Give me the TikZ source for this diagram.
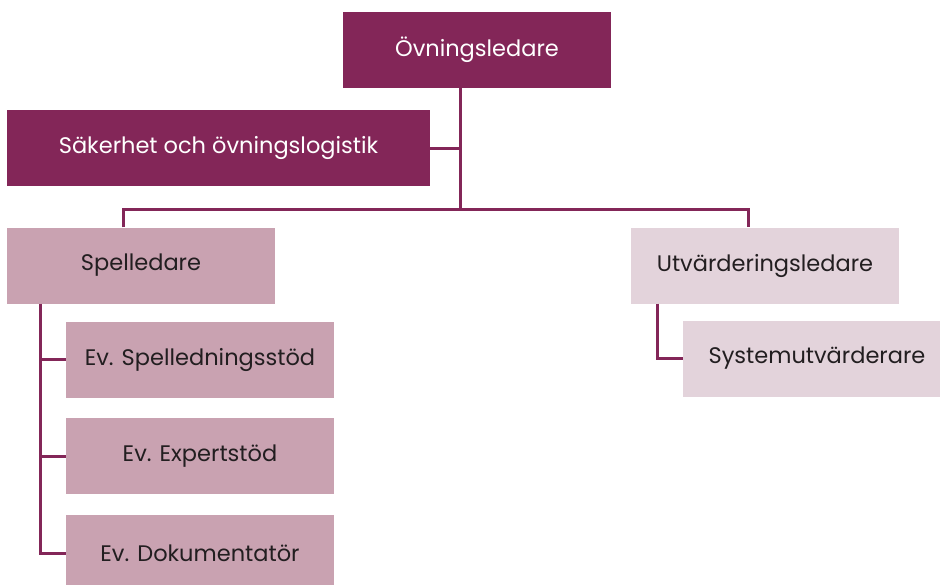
\documentclass[tikz,border=0pt]{standalone}
\usepackage{fontspec}
\setmainfont{Poppins}
\definecolor{plum}{RGB}{131,38,88}
\definecolor{rose}{RGB}{201,162,177}
\definecolor{blush}{RGB}{227,211,219}
\definecolor{ink}{RGB}{34,30,32}
\tikzset{
  box/.style={rectangle, inner sep=0pt, minimum width=268pt, minimum height=76pt, font=\fontsize{22.5}{26}\selectfont},
  dark/.style={box, fill=plum, text=white},
  mid/.style={box, fill=rose, text=ink},
  pale/.style={box, fill=blush, text=ink},
  conn/.style={draw=plum, line width=3pt}
}
\begin{document}
\begin{tikzpicture}[x=1pt,y=-1pt]
\useasboundingbox (0,0) rectangle (940,584);
% boxes
\node[dark] (top) at (477,50) {Övningsledare};
\node[dark, minimum width=423pt] (sak) at (218.5,148) {Säkerhet och övningslogistik};
\node[mid] (spel) at (141,265.5) {Spelledare};
\node[pale] (utv) at (765,265.5) {Utvärderingsledare};
\node[mid] (s1) at (200,359.5) {Ev. Spelledningsstöd};
\node[mid] (s2) at (200,456) {Ev. Expertstöd};
\node[mid] (s3) at (200,553) {Ev. Dokumentatör};
\node[pale] (sys) at (817,358.5) {Systemutvärderare};
% bus points
\coordinate (j1) at (460,148);
\coordinate (j2) at (460,209);
\coordinate (bl) at (123,209);
\coordinate (br) at (748,209);
\coordinate (sv) at (40,300);
\coordinate (uv) at (657,300);
% connectors
\draw[conn] (top.south -| j1) -- (j2);
\draw[conn] (sak.east) -- (j1);
\draw[conn] (spel.north -| bl) -- (bl) -- (br) -- (utv.north -| br);
\draw[conn] (spel.south -| sv) |- (s3.west);
\draw[conn] (s1.west -| sv) -- (s1.west);
\draw[conn] (s2.west -| sv) -- (s2.west);
\draw[conn] (utv.south -| uv) |- (sys.west);
\end{tikzpicture}
\end{document}
